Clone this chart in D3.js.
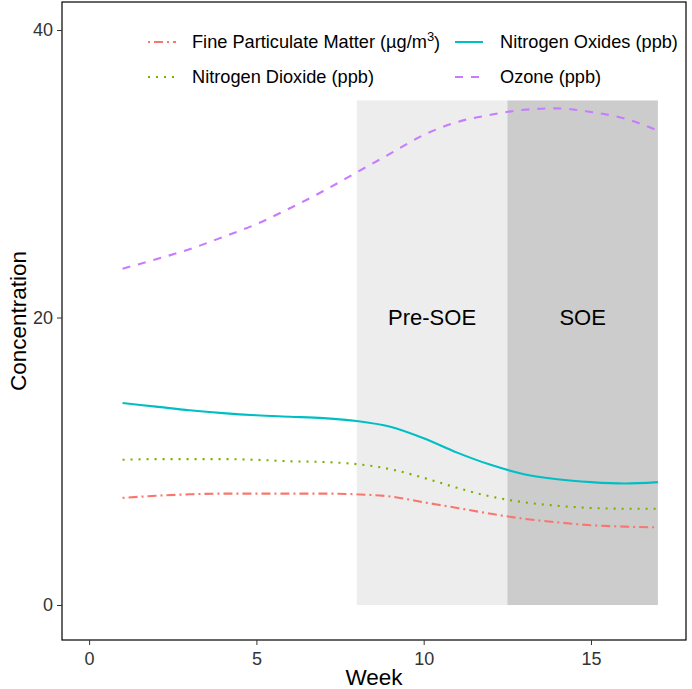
<!DOCTYPE html>
<html>
<head>
<meta charset="utf-8">
<script src="https://cdn.jsdelivr.net/npm/d3@7"></script>
<style>
  body { margin: 0; background: #fff; }
  svg { display: block; font-family: "Liberation Sans", Arial, sans-serif; }
</style>
</head>
<body>
<svg id="chart" width="692" height="689"></svg>
<script>
// ---- data ----
const weeks = [1,2,3,4,5,6,7,8,9,10,11,12,13,14,15,16,17];
const pm25  = [7.45,7.6,7.7,7.75,7.75,7.75,7.75,7.7,7.55,7.15,6.75,6.35,6.0,5.75,5.55,5.45,5.4];
const no2   = [10.1,10.15,10.15,10.15,10.1,10.0,9.95,9.8,9.45,8.85,8.15,7.55,7.15,6.9,6.75,6.7,6.7];
const nox   = [14.05,13.8,13.55,13.35,13.2,13.1,13.0,12.8,12.4,11.6,10.6,9.75,9.1,8.75,8.55,8.45,8.55];
const ozone = [23.4,24.05,24.75,25.6,26.5,27.6,28.8,30.1,31.4,32.7,33.6,34.1,34.45,34.55,34.3,33.85,33.0];
const seriesNames = ["Fine Particulate Matter (µg/m3)", "Nitrogen Dioxide (ppb)", "Nitrogen Oxides (ppb)", "Ozone (ppb)"];
const periods = [
  {label: "Pre-SOE", start: 8, end: 12.5, top: 35.1},
  {label: "SOE", start: 12.5, end: 17, top: 35.1}
];
const xTicks = [0, 5, 10, 15];
const yTicks = [0, 20, 40];

// ---- styles ----
const colors = ["#F8766D", "#7CAE00", "#00BFC4", "#C77CFF"];
const dashes = ["2,4,9,4", "2,6", null, "8,8"];
const periodFill = ["#EDEDED", "#CCCCCC"];

const svg = d3.select("#chart");
const P = {left: 62, right: 686, top: 2, bottom: 640};

const x = d3.scaleLinear().domain([-0.81, 17.84]).range([P.left, P.right]);
const y = d3.scaleLinear().domain([-2.435, 41.95]).range([P.bottom, P.top]);

// period rects
svg.append("g").selectAll("rect").data(periods).join("rect")
  .attr("x", d => x(d.start)).attr("width", d => x(d.end) - x(d.start))
  .attr("y", d => y(d.top)).attr("height", d => y(0) - y(d.top))
  .attr("fill", (d, i) => periodFill[i]);

svg.append("g").selectAll("text").data(periods).join("text")
  .attr("x", d => x((d.start + d.end) / 2)).attr("y", y(20))
  .attr("dy", "0.35em").attr("text-anchor", "middle")
  .attr("font-size", 22).attr("fill", "#000").text(d => d.label);

// lines
const allSeries = [pm25, no2, nox, ozone];
const line = d3.line().x(d => x(d[0])).y(d => y(d[1])).curve(d3.curveMonotoneX);
allSeries.forEach((vals, i) => {
  svg.append("path")
    .datum(weeks.map((w, j) => [w, vals[j]]))
    .attr("d", line).attr("fill", "none")
    .attr("stroke", colors[i]).attr("stroke-width", 2.1)
    .attr("stroke-dasharray", dashes[i]);
});

// panel border
svg.append("rect").attr("x", P.left).attr("y", P.top)
  .attr("width", P.right - P.left).attr("height", P.bottom - P.top)
  .attr("fill", "none").attr("stroke", "#000").attr("stroke-width", 1.2);

// axes
const xAxis = d3.axisBottom(x).tickValues(xTicks).tickSize(5).tickPadding(7);
const gx = svg.append("g").attr("transform", `translate(0,${P.bottom})`).call(xAxis);
gx.select(".domain").remove();
gx.selectAll("line").attr("stroke", "#333");
gx.selectAll("text").attr("font-size", 18).attr("fill", "#333")
  .attr("font-family", "Liberation Sans, Arial, sans-serif");

const yAxis = d3.axisLeft(y).tickValues(yTicks).tickSize(5).tickPadding(4);
const gy = svg.append("g").attr("transform", `translate(${P.left},0)`).call(yAxis);
gy.select(".domain").remove();
gy.selectAll("line").attr("stroke", "#333");
gy.selectAll("text").attr("font-size", 18).attr("fill", "#333")
  .attr("font-family", "Liberation Sans, Arial, sans-serif");

// axis titles
svg.append("text").attr("x", (P.left + P.right) / 2).attr("y", 685)
  .attr("text-anchor", "middle").attr("font-size", 22.5).text("Week");
svg.append("text").attr("transform", `translate(26,${(P.top + P.bottom) / 2}) rotate(-90)`)
  .attr("text-anchor", "middle").attr("font-size", 22.5).text("Concentration");

// legend
const legPos = [
  {kx: 148, tx: 192, y: 42},
  {kx: 148, tx: 192, y: 77},
  {kx: 455, tx: 500, y: 42},
  {kx: 455, tx: 500, y: 77}
];
const leg = svg.append("g");
seriesNames.forEach((name, i) => {
  const p = legPos[i];
  leg.append("line").attr("x1", p.kx).attr("x2", p.kx + 28)
    .attr("y1", p.y).attr("y2", p.y)
    .attr("stroke", colors[i]).attr("stroke-width", 2)
    .attr("stroke-dasharray", dashes[i]);
  const t = leg.append("text").attr("x", p.tx).attr("y", p.y).attr("dy", "0.35em")
    .attr("font-size", 18.2).attr("fill", "#000");
  if (name.endsWith("m3)")) {
    t.append("tspan").text(name.slice(0, -2));
    t.append("tspan").attr("font-size", 13).attr("dy", "-0.55em").text("3");
    t.append("tspan").attr("dy", "0.4em").text(")");
  } else {
    t.text(name);
  }
});
</script>
</body>
</html>
